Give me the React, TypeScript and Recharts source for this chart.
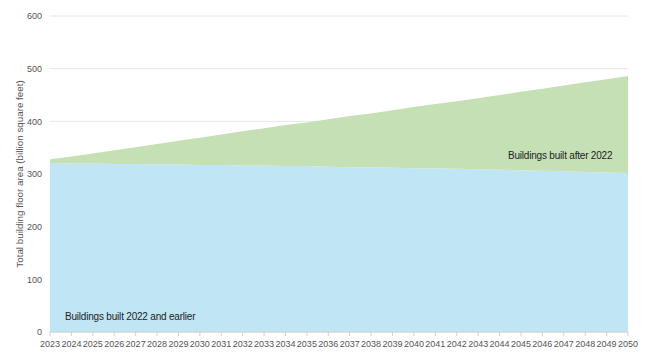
import { AreaChart, Area, XAxis, YAxis, CartesianGrid } from "recharts"

const years = [
  "2023", "2024", "2025", "2026", "2027", "2028", "2029", "2030", "2031", "2032",
  "2033", "2034", "2035", "2036", "2037", "2038", "2039", "2040", "2041", "2042",
  "2043", "2044", "2045", "2046", "2047", "2048", "2049", "2050",
]

// billion square feet
const builtBefore = [
  321, 320, 320, 319, 319, 318, 318, 317, 317, 316, 316, 315, 315, 314,
  313, 313, 312, 311, 311, 310, 309, 308, 307, 306, 305, 304, 303, 302,
]
const builtAfter = [
  7, 13, 19, 26, 32, 39, 45, 52, 58, 65, 71, 78, 83, 90,
  97, 102, 109, 116, 122, 128, 135, 142, 149, 156, 163, 170, 177, 184,
]

const yTicks = [0, 100, 200, 300, 400, 500, 600]

const data = years.map((year, i) => ({
  year,
  before: builtBefore[i],
  after: builtAfter[i],
}))

const font = "'Liberation Sans', Arial, sans-serif"

export default function App() {
  return (
    <div style={{ position: "absolute", left: 0, top: 0, width: 650, height: 358, background: "#fff", fontFamily: font }}>
      <AreaChart width={650} height={358} data={data} margin={{ top: 16, right: 22, bottom: 0, left: 0 }}>
        <CartesianGrid vertical={false} stroke="#e6e6e6" />
        <XAxis
          dataKey="year"
          interval={0}
          stroke="#d0d0d0"
          tickSize={4}
          tickMargin={5}
          tick={{ fill: "#555", fontSize: 9, fontFamily: font }}
          height={26}
        />
        <YAxis
          domain={[0, 600]}
          ticks={yTicks}
          width={50}
          axisLine={false}
          tickLine={false}
          tick={{ fill: "#555", fontSize: 9, fontFamily: font }}
          label={{
            value: "Total building floor area (billion square feet)",
            angle: -90,
            position: "insideLeft",
            offset: 20,
            style: { fill: "#555", fontSize: 9.8, fontFamily: font, textAnchor: "middle" },
          }}
        />
        <Area type="linear" dataKey="before" stackId="1" stroke="none" fill="#c0e6f6" fillOpacity={1} isAnimationActive={false} />
        <Area type="linear" dataKey="after" stackId="1" stroke="none" fill="#c6e0b6" fillOpacity={1} isAnimationActive={false} />
      </AreaChart>
      <div style={{ position: "absolute", left: 65, top: 311, fontSize: 10, letterSpacing: -0.2, color: "#222" }}>
        Buildings built 2022 and earlier
      </div>
      <div style={{ position: "absolute", left: 508, top: 150, fontSize: 10, letterSpacing: -0.2, color: "#222" }}>
        Buildings built after 2022
      </div>
    </div>
  )
}
